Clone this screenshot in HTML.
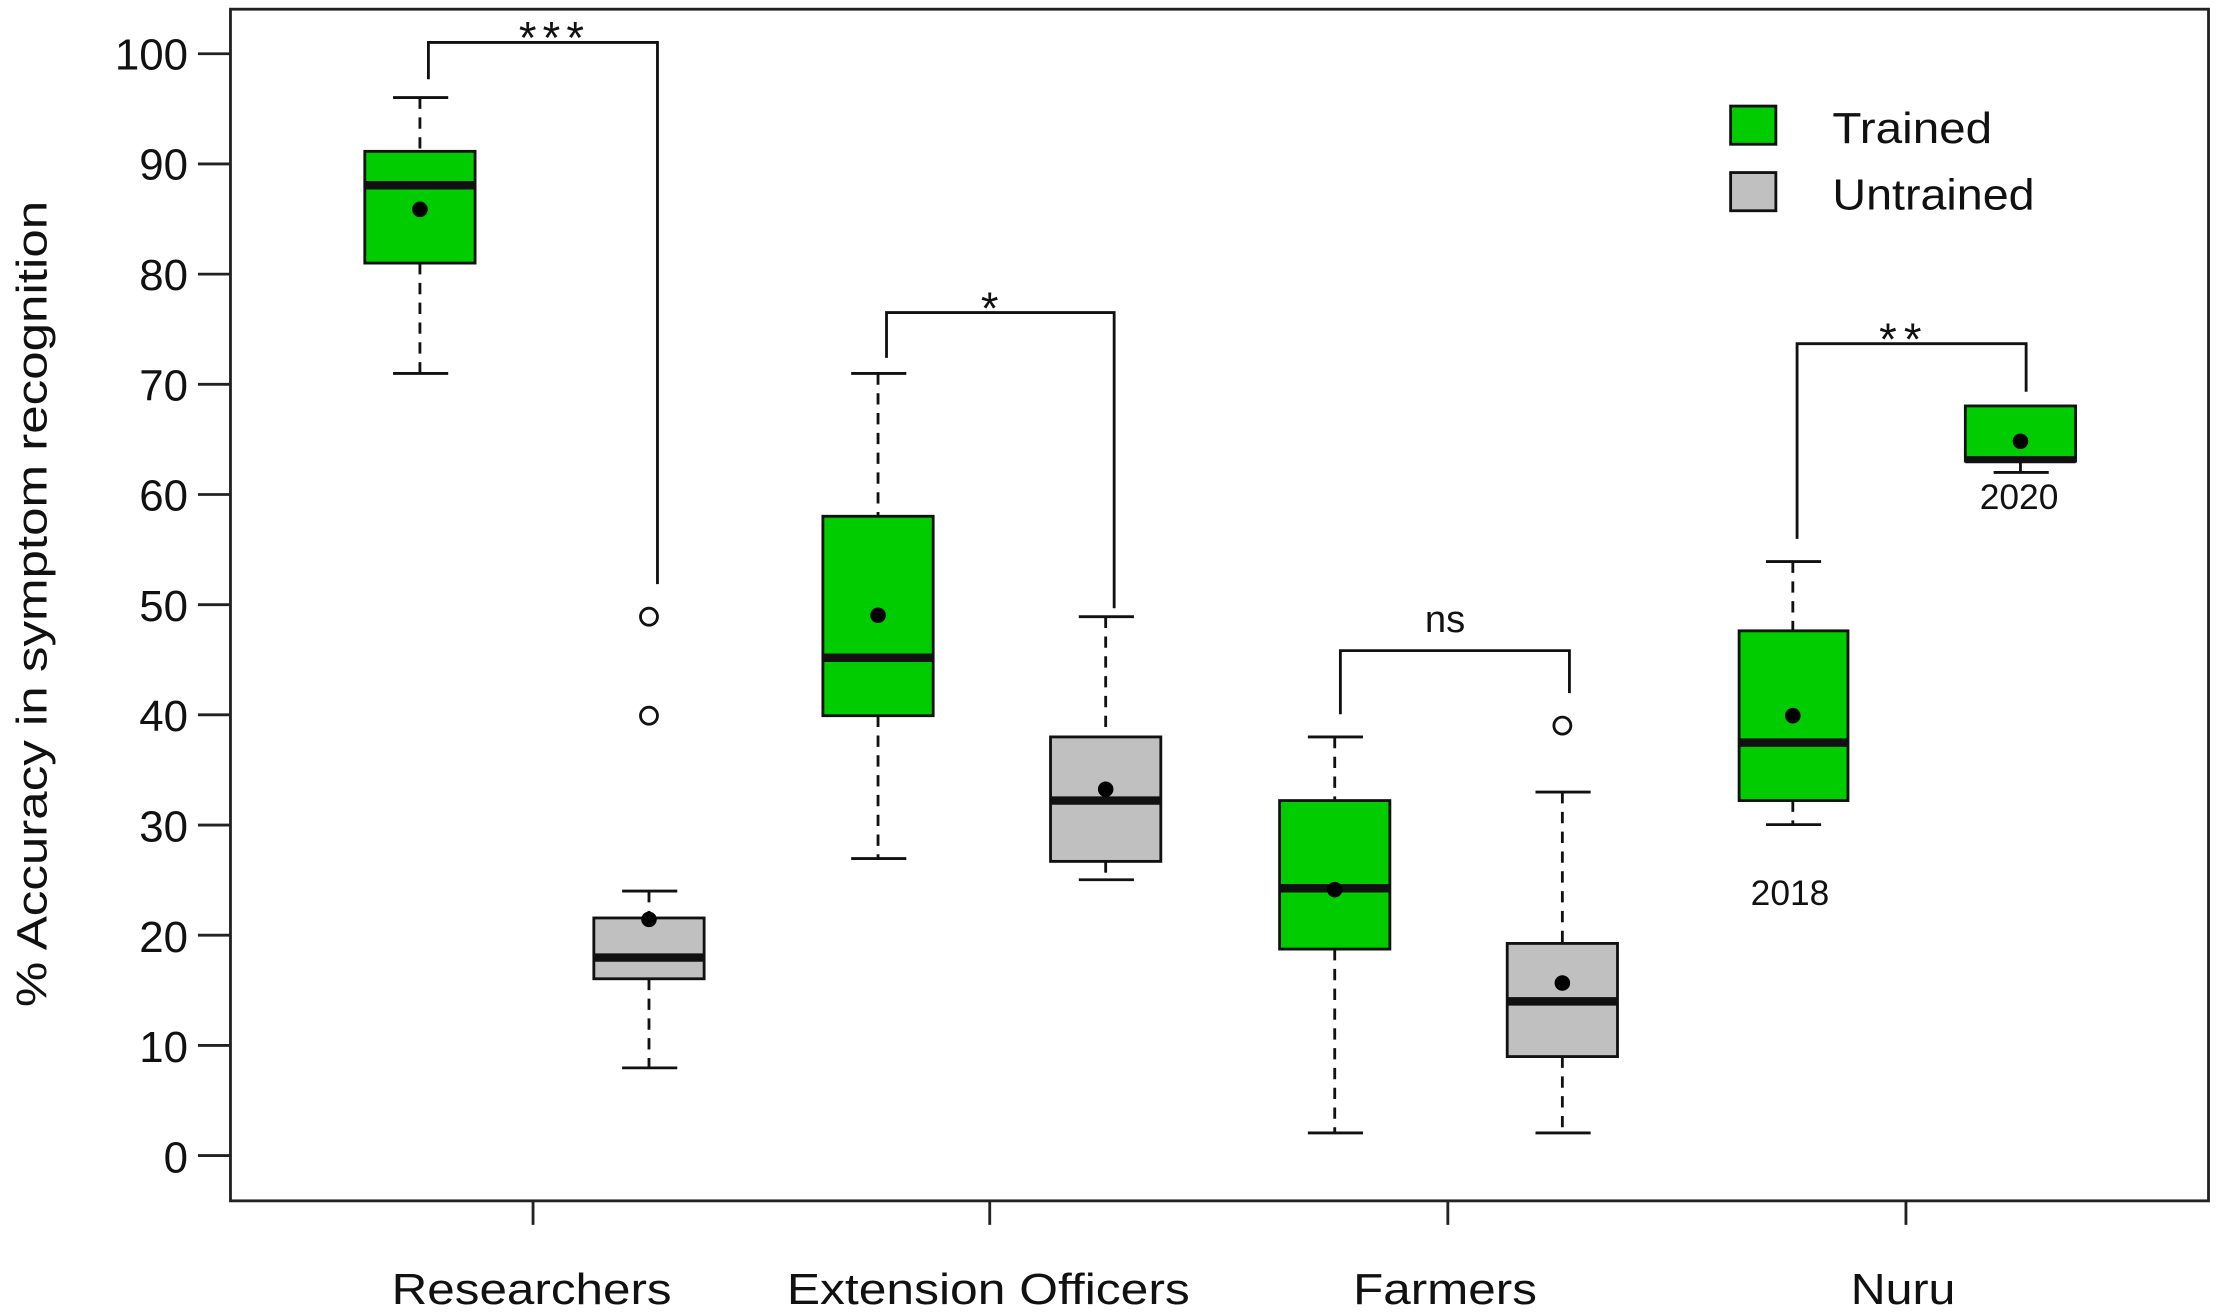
<!DOCTYPE html>
<html><head><meta charset="utf-8"><style>
html,body{margin:0;padding:0;background:#fff;}
svg{display:block;}
text{font-family:"Liberation Sans",Arial,sans-serif;fill:#111;}
</style></head><body>
<svg width="2217" height="1314" viewBox="0 0 1568 929" preserveAspectRatio="none" xmlns="http://www.w3.org/2000/svg">
<rect x="0" y="0" width="1568" height="929" fill="#fff"/>
<rect x="163" y="6.5" width="1399" height="842.5" fill="none" stroke="#222" stroke-width="2"/>
<g stroke="#222" stroke-width="2">
<line x1="140" x2="163" y1="817" y2="817"/><line x1="140" x2="163" y1="739.1" y2="739.1"/>
<line x1="140" x2="163" y1="661.2" y2="661.2"/><line x1="140" x2="163" y1="583.3" y2="583.3"/>
<line x1="140" x2="163" y1="505.4" y2="505.4"/><line x1="140" x2="163" y1="427.5" y2="427.5"/>
<line x1="140" x2="163" y1="349.6" y2="349.6"/><line x1="140" x2="163" y1="271.7" y2="271.7"/>
<line x1="140" x2="163" y1="193.8" y2="193.8"/><line x1="140" x2="163" y1="115.9" y2="115.9"/>
<line x1="140" x2="163" y1="38" y2="38"/>
<line x1="377" x2="377" y1="849" y2="866"/><line x1="700" x2="700" y1="849" y2="866"/>
<line x1="1024" x2="1024" y1="849" y2="866"/><line x1="1348" x2="1348" y1="849" y2="866"/>
</g>
<g font-size="31" text-anchor="end">
<text x="133" y="829">0</text><text x="133" y="751">10</text><text x="133" y="673">20</text>
<text x="133" y="595">30</text><text x="133" y="517">40</text><text x="133" y="439">50</text>
<text x="133" y="361">60</text><text x="133" y="283">70</text><text x="133" y="205">80</text>
<text x="133" y="127">90</text><text x="133" y="49">100</text>
</g>
<text transform="translate(33,427) rotate(-90)" font-size="30" text-anchor="middle" textLength="570" lengthAdjust="spacingAndGlyphs">% Accuracy in symptom recognition</text>
<g font-size="31" text-anchor="middle">
<text x="376" y="922" textLength="198" lengthAdjust="spacingAndGlyphs">Researchers</text>
<text x="699" y="922" textLength="285" lengthAdjust="spacingAndGlyphs">Extension Officers</text>
<text x="1022" y="922" textLength="130" lengthAdjust="spacingAndGlyphs">Farmers</text>
<text x="1346" y="922" textLength="74" lengthAdjust="spacingAndGlyphs">Nuru</text>
</g>
<g stroke="#111" stroke-width="2">
<line x1="297" x2="297" y1="69" y2="107" stroke-dasharray="8,6"/><line x1="297" x2="297" y1="186" y2="264" stroke-dasharray="8,6"/>
<line x1="278" x2="317" y1="69" y2="69"/><line x1="278" x2="317" y1="264" y2="264"/>
<rect x="258" y="107" width="78" height="79" fill="#00cc00"/>
<line x1="258" x2="336" y1="131" y2="131" stroke-width="6"/>
<line x1="459" x2="459" y1="630" y2="649" stroke-dasharray="8,6"/><line x1="459" x2="459" y1="692" y2="755" stroke-dasharray="8,6"/>
<line x1="440" x2="479" y1="630" y2="630"/><line x1="440" x2="479" y1="755" y2="755"/>
<rect x="420" y="649" width="78" height="43" fill="#c0c0c0"/>
<line x1="420" x2="498" y1="677" y2="677" stroke-width="6"/>
<circle cx="459" cy="436" r="6" fill="#fff"/><circle cx="459" cy="506" r="6" fill="#fff"/>
<line x1="621" x2="621" y1="264" y2="365" stroke-dasharray="8,6"/><line x1="621" x2="621" y1="506" y2="607" stroke-dasharray="8,6"/>
<line x1="602" x2="641" y1="264" y2="264"/><line x1="602" x2="641" y1="607" y2="607"/>
<rect x="582" y="365" width="78" height="141" fill="#00cc00"/>
<line x1="582" x2="660" y1="465" y2="465" stroke-width="6"/>
<line x1="782" x2="782" y1="436" y2="521" stroke-dasharray="8,6"/><line x1="782" x2="782" y1="609" y2="622" stroke-dasharray="8,6"/>
<line x1="763" x2="802" y1="436" y2="436"/><line x1="763" x2="802" y1="622" y2="622"/>
<rect x="743" y="521" width="78" height="88" fill="#c0c0c0"/>
<line x1="743" x2="821" y1="566" y2="566" stroke-width="6"/>
<line x1="944" x2="944" y1="521" y2="566" stroke-dasharray="8,6"/><line x1="944" x2="944" y1="671" y2="801" stroke-dasharray="8,6"/>
<line x1="925" x2="964" y1="521" y2="521"/><line x1="925" x2="964" y1="801" y2="801"/>
<rect x="905" y="566" width="78" height="105" fill="#00cc00"/>
<line x1="905" x2="983" y1="628" y2="628" stroke-width="6"/>
<line x1="1105" x2="1105" y1="560" y2="667" stroke-dasharray="8,6"/><line x1="1105" x2="1105" y1="747" y2="801" stroke-dasharray="8,6"/>
<line x1="1086" x2="1125" y1="560" y2="560"/><line x1="1086" x2="1125" y1="801" y2="801"/>
<rect x="1066" y="667" width="78" height="80" fill="#c0c0c0"/>
<line x1="1066" x2="1144" y1="708" y2="708" stroke-width="6"/>
<circle cx="1105" cy="513" r="6" fill="#fff"/>
<line x1="1268" x2="1268" y1="397" y2="446" stroke-dasharray="8,6"/><line x1="1268" x2="1268" y1="566" y2="583" stroke-dasharray="8,6"/>
<line x1="1249" x2="1288" y1="397" y2="397"/><line x1="1249" x2="1288" y1="583" y2="583"/>
<rect x="1230" y="446" width="77" height="120" fill="#00cc00"/>
<line x1="1230" x2="1307" y1="525" y2="525" stroke-width="6"/>
<line x1="1429" x2="1429" y1="327" y2="334"/>
<line x1="1410" x2="1449" y1="334" y2="334"/>
<rect x="1390" y="287" width="78" height="39" fill="#00cc00"/>
<line x1="1390" x2="1468" y1="325" y2="325" stroke-width="5"/>
</g>
<g fill="#000">
<circle cx="297" cy="148" r="5.5"/><circle cx="459" cy="650" r="5.5"/>
<circle cx="621" cy="435" r="5.5"/><circle cx="782" cy="558" r="5.5"/>
<circle cx="944" cy="629" r="5.5"/><circle cx="1105" cy="695" r="5.5"/>
<circle cx="1268" cy="506" r="5.5"/><circle cx="1429" cy="312" r="5.5"/>
</g>
<text x="1266" y="640" font-size="25" text-anchor="middle">2018</text>
<text x="1428" y="360" font-size="25" text-anchor="middle">2020</text>
<g fill="none" stroke="#111" stroke-width="2">
<polyline points="303,56 303,30 465,30 465,413"/>
<polyline points="627,253 627,221 788,221 788,430"/>
<polyline points="948,505 948,460 1110,460 1110,490"/>
<polyline points="1271,381 1271,243 1433,243 1433,277"/>
</g>
<g font-size="32" text-anchor="middle">
<text x="390" y="38" textLength="46" lengthAdjust="spacing">***</text>
<text x="700" y="229">*</text>
<text x="1022" y="447" font-size="27">ns</text>
<text x="1344" y="251" textLength="30" lengthAdjust="spacing">**</text>
</g>
<rect x="1224" y="75" width="32" height="27" fill="#00cc00" stroke="#111" stroke-width="2"/>
<rect x="1224" y="122" width="32" height="27" fill="#c0c0c0" stroke="#111" stroke-width="2"/>
<text x="1296" y="101" font-size="31" textLength="113" lengthAdjust="spacingAndGlyphs">Trained</text>
<text x="1296" y="148" font-size="31" textLength="143" lengthAdjust="spacingAndGlyphs">Untrained</text>
</svg>
</body></html>
